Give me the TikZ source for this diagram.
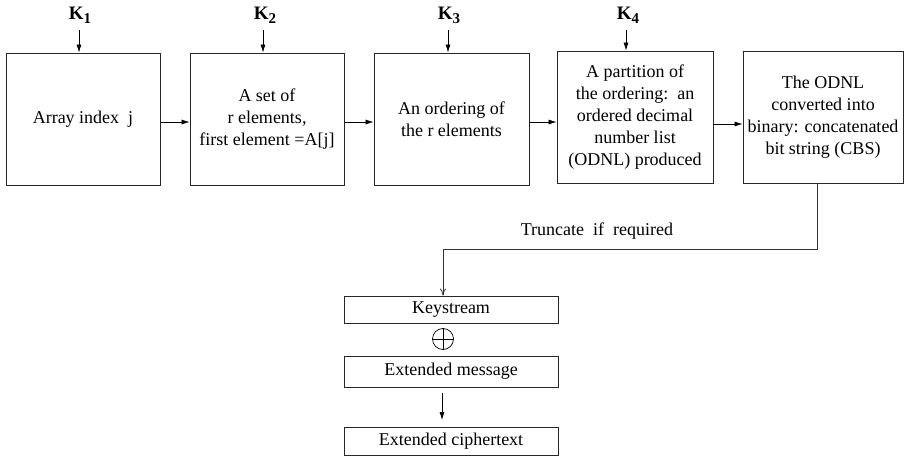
\documentclass[tikz,border=0pt]{standalone}
\usepackage{fontspec}
\setmainfont{Liberation Serif}
\usetikzlibrary{arrows.meta}
\begin{document}
\begin{tikzpicture}[x=1pt,y=-1pt,
  blk/.style={draw=black!85,line width=0.8pt,minimum height=132pt,align=center,inner sep=2pt,
    font=\fontsize{18}{22}\selectfont},
  sblk/.style={draw=black!85,line width=0.8pt,minimum width=214pt,align=center,inner sep=0pt,
    font=\fontsize{18}{22}\selectfont},
  klab/.style={font=\fontsize{19}{20}\selectfont\bfseries},
  arr/.style={-{Latex[length=8pt,width=5pt]},line width=0.7pt},
  openarr/.style={-{To[length=7pt,width=6pt]},line width=0.8pt,draw=black!80},
  txt/.style={font=\fontsize{18}{22}\selectfont}]
\useasboundingbox (0,0) rectangle (908,457);
% top boxes
\node[blk,minimum width=154pt] (b1) at (83,119) {Array index\ \ j};
\node[blk,minimum width=154pt] (b2) at (267,119) {A set of\\ r elements,\\ first element =A[j]};
\node[blk,minimum width=155pt] (b3) at (451.5,119) {An ordering of\\ the r elements};
\node[blk,minimum width=156pt] (b4) at (635,117) {A partition of\\ the ordering:\ \ an\\ ordered decimal\\ number list\\ (ODNL) produced};
\node[blk,minimum width=160pt] (b5) at (823,117) {The ODNL\\ converted into\\ binary: concatenated\\ bit string (CBS)};
% keys
\node[klab] (k1) at (80,15) {K\raisebox{-4pt}{\fontsize{15}{16}\selectfont 1}};
\node[klab] (k2) at (265,15) {K\raisebox{-4pt}{\fontsize{15}{16}\selectfont 2}};
\node[klab] (k3) at (449,15) {K\raisebox{-4pt}{\fontsize{15}{16}\selectfont 3}};
\node[klab] (k4) at (628,15) {K\raisebox{-4pt}{\fontsize{15}{16}\selectfont 4}};
\coordinate (a1) at (79,30);
\coordinate (a2) at (263,30);
\coordinate (a3) at (448,30);
\coordinate (a4) at (626,30);
\draw[arr] (a1) -- (a1 |- b1.north);
\draw[arr] (a2) -- (a2 |- b2.north);
\draw[arr] (a3) -- (a3 |- b3.north);
\draw[arr] (a4) -- (a4 |- b4.north);
% horizontal arrows
\draw[arr] ([yshift=-3pt]b1.east) -- ([yshift=-3pt]b2.west);
\draw[arr] ([yshift=-3pt]b2.east) -- ([yshift=-3pt]b3.west);
\draw[arr] ([yshift=-3pt]b3.east) -- ([yshift=-3pt]b4.west |- b3.east);
\draw[arr] ([yshift=-5pt]b4.east |- b3.east) -- ([yshift=-5pt]b5.west |- b3.east);
% bottom
\node[sblk,minimum height=27pt] (ks) at (451,309.5) {Keystream};
\node[sblk,minimum height=31pt] (em) at (451,371.5) {Extended message};
\node[sblk,minimum height=28pt] (ec) at (451,441) {Extended ciphertext};
\node[txt] (tr) at (597,231) {Truncate\ \ if\ \ required};
\coordinate (bend) at (443,249);
\draw[openarr] ([xshift=-6pt]b5.south) |- (bend) -- (bend |- ks.north);
\node[draw,circle,minimum size=21pt,inner sep=0pt,line width=0.7pt] (xo) at (443,339) {};
\draw[line width=0.7pt] (xo.north) -- (xo.south) (xo.west) -- (xo.east);
\coordinate (m1) at (442,393);
\coordinate (m2) at (442,420);
\draw[arr] (m1) -- (m2);
\end{tikzpicture}
\end{document}
